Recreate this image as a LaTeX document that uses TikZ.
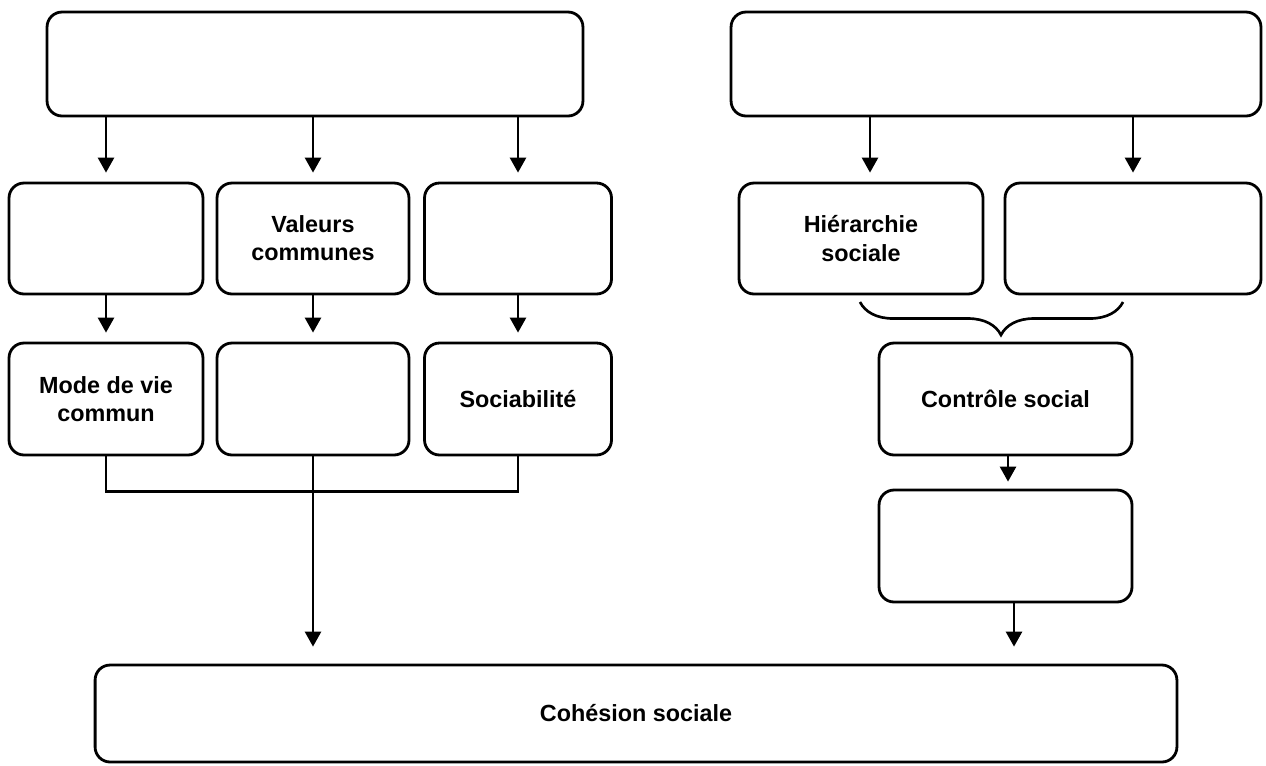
\documentclass[tikz,border=0pt]{standalone}
\usepackage{fontspec}
\setmainfont{Liberation Sans}
\usepackage{tikz}
\usetikzlibrary{arrows.meta, positioning, decorations.pathreplacing}
\tikzstyle{box} = [draw, rounded corners=0.3cm, line width=1.6pt, align=center, font=\fontsize{13.3}{16}\selectfont\bfseries, inner sep=0pt]
\tikzstyle{arrow} = [line width=1.5pt, -{Triangle[width=0.32cm,length=0.3cm]}]
\tikzstyle{link} = [line width=1.5pt]

\begin{document}
\begin{tikzpicture}[x=0.02cm, y=-0.02cm]
\useasboundingbox (0,0) rectangle (1266,765);

\node [box, minimum width=10.72cm, minimum height=2.08cm] (topl) at (315,64) {};
\node [box, minimum width=10.6cm, minimum height=2.08cm] (topr) at (996,64) {};

\node [box, minimum width=3.88cm, minimum height=2.22cm] (a1) at (106,238.5) {};
\node [box, minimum width=3.84cm, minimum height=2.22cm] (a2) at (313,238.5) {Valeurs\\communes};
\node [box, minimum width=3.74cm, minimum height=2.22cm] (a3) at (518,238.5) {};
\node [box, minimum width=4.88cm, minimum height=2.22cm] (h1) at (861,238.5) {Hiérarchie\\sociale};
\node [box, minimum width=5.12cm, minimum height=2.22cm] (h2) at (1133,238.5) {};

\node [box, minimum width=3.88cm, minimum height=2.24cm] (b1) at (106,399) {Mode de vie\\commun};
\node [box, minimum width=3.84cm, minimum height=2.24cm] (b2) at (313,399) {};
\node [box, minimum width=3.74cm, minimum height=2.24cm] (b3) at (518,399) {Sociabilité};
\node [box, minimum width=5.06cm, minimum height=2.24cm] (ctrl) at (1005.5,399) {Contrôle social};
\node [box, minimum width=5.06cm, minimum height=2.24cm] (c2) at (1005.5,546) {};

\node [box, minimum width=21.64cm, minimum height=1.94cm] (coh) at (636,713.5) {Cohésion sociale};

\coordinate (bl) at (860,302);
\coordinate (br) at (1123,302);

\draw [arrow, shorten >=0.18cm] (a1.north |- topl.south) to (a1.north);
\draw [arrow, shorten >=0.18cm] (a2.north |- topl.south) to (a2.north);
\draw [arrow, shorten >=0.18cm] (a3.north |- topl.south) to (a3.north);
\draw [arrow, shorten >=0.18cm] ([xshift=0.18cm]h1.north |- topr.south) to ([xshift=0.18cm]h1.north);
\draw [arrow, shorten >=0.18cm] (h2.north |- topr.south) to (h2.north);

\draw [arrow, shorten >=0.18cm] (a1) to (b1);
\draw [arrow, shorten >=0.18cm] (a2) to (b2);
\draw [arrow, shorten >=0.18cm] (a3) to (b3);

\draw [link] (b1.south) -- ++(0,35) -| (b3.south);
\draw [arrow, shorten >=0.34cm] (b2.south) to (b2.south |- coh.north);

\draw [link, decorate, decoration={brace, mirror, amplitude=0.66cm, aspect=0.536}] (bl) -- (br);

\draw [arrow, shorten >=0.14cm] ([xshift=0.05cm]ctrl.south) to ([xshift=0.05cm]c2.north);
\draw [arrow, shorten >=0.34cm] ([xshift=0.17cm]c2.south) to ([xshift=0.17cm]c2.south |- coh.north);
\end{tikzpicture}
\end{document}
